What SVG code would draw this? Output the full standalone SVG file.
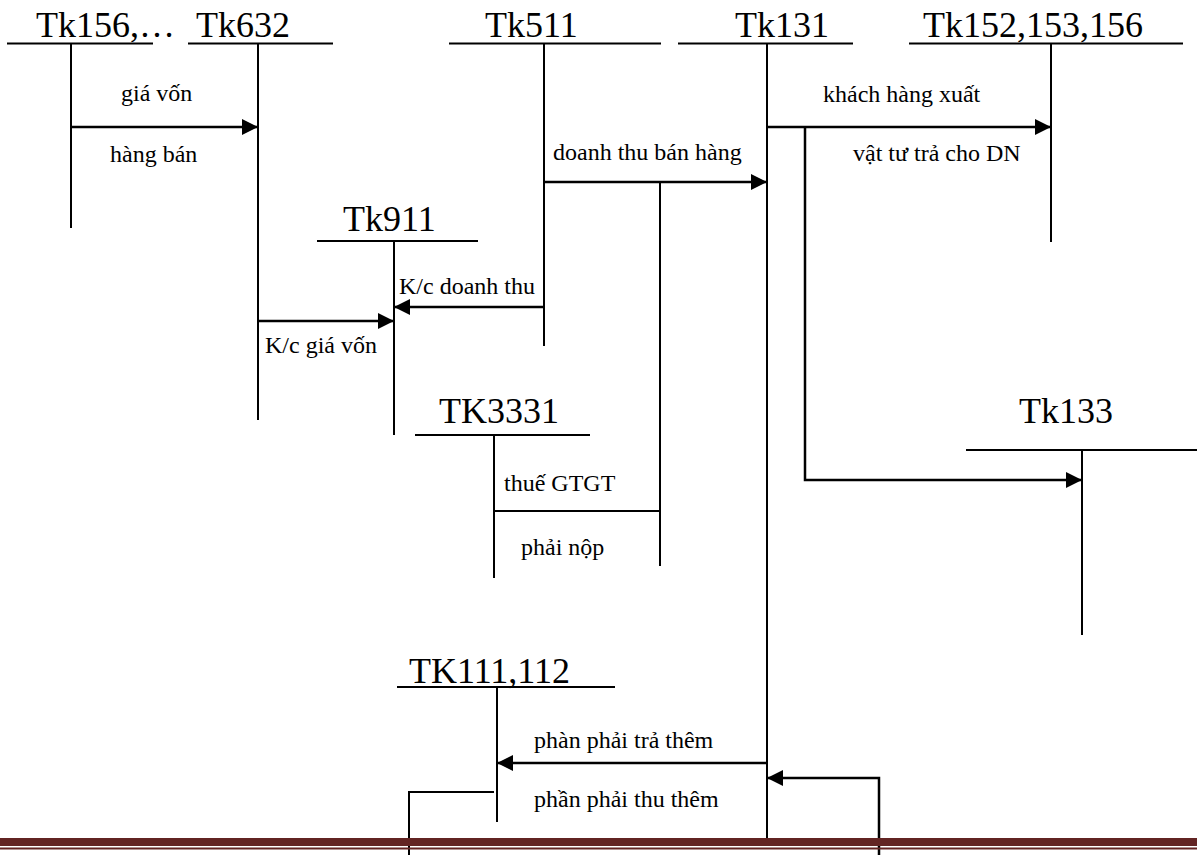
<svg xmlns="http://www.w3.org/2000/svg" width="1197" height="855" viewBox="0 0 1197 855">
<style>
.t{font-family:"Liberation Serif","Times New Roman",serif;font-size:36px;fill:#000}
.l{font-family:"Liberation Serif","Times New Roman",serif;font-size:24px;fill:#000}
.ln{stroke:#000;stroke-width:2;fill:none}
.ar{stroke:#000;stroke-width:2.5;fill:none}
</style>
<defs>
<marker id="ah" markerUnits="userSpaceOnUse" markerWidth="16" markerHeight="16" refX="16" refY="8" orient="auto">
<path d="M0,0 L16,8 L0,16 z" fill="#000"/>
</marker>
</defs>
<rect width="1197" height="855" fill="#fff"/>
<g id="tk156">
<text class="t" x="36" y="37">Tk156,…</text>
<line class="ln" x1="7" y1="43.5" x2="153" y2="43.5"/>
<line class="ln" x1="71" y1="43" x2="71" y2="228"/>
</g>
<g id="tk632">
<text class="t" x="196" y="37">Tk632</text>
<line class="ln" x1="188" y1="43.5" x2="333" y2="43.5"/>
<line class="ln" x1="258" y1="43" x2="258" y2="420"/>
</g>
<g id="tk511">
<text class="t" x="485" y="37">Tk511</text>
<line class="ln" x1="449" y1="43.5" x2="661" y2="43.5"/>
<line class="ln" x1="544" y1="43" x2="544" y2="346"/>
</g>
<g id="tk131">
<text class="t" x="735" y="37">Tk131</text>
<line class="ln" x1="678" y1="43.5" x2="853" y2="43.5"/>
<line class="ln" x1="767" y1="43" x2="767" y2="843"/>
</g>
<g id="tk152">
<text class="t" x="923" y="37">Tk152,153,156</text>
<line class="ln" x1="909" y1="43.5" x2="1183" y2="43.5"/>
<line class="ln" x1="1051" y1="43" x2="1051" y2="242"/>
</g>
<g id="tk911">
<text class="t" x="343" y="231">Tk911</text>
<line class="ln" x1="317" y1="241" x2="478" y2="241"/>
<line class="ln" x1="394" y1="241" x2="394" y2="435"/>
</g>
<g id="tk3331">
<text class="t" x="439" y="423">TK3331</text>
<line class="ln" x1="415" y1="435" x2="590" y2="435"/>
<line class="ln" x1="494" y1="435" x2="494" y2="578"/>
</g>
<g id="tk133">
<text class="t" x="1019" y="423">Tk133</text>
<line class="ln" x1="966" y1="450" x2="1197" y2="450"/>
<line class="ln" x1="1082" y1="450" x2="1082" y2="635"/>
</g>
<g id="tk111">
<text class="t" x="409" y="683">TK111,112</text>
<line class="ln" x1="397" y1="687" x2="615" y2="687"/>
<line class="ln" x1="497" y1="687" x2="497" y2="822"/>
</g>
<g id="connectors">
<line class="ar" x1="71" y1="127" x2="258" y2="127" marker-end="url(#ah)"/>
<line class="ar" x1="544" y1="182" x2="767" y2="182" marker-end="url(#ah)"/>
<line class="ln" x1="660" y1="182" x2="660" y2="566"/>
<line class="ln" x1="494" y1="511" x2="660" y2="511"/>
<line class="ar" x1="767" y1="127" x2="1051" y2="127" marker-end="url(#ah)"/>
<polyline class="ar" points="805,127 805,480 1082,480" marker-end="url(#ah)"/>
<line class="ar" x1="544" y1="307" x2="394" y2="307" marker-end="url(#ah)"/>
<line class="ar" x1="258" y1="321" x2="394" y2="321" marker-end="url(#ah)"/>
<line class="ar" x1="767" y1="763" x2="497" y2="763" marker-end="url(#ah)"/>
<polyline class="ar" points="879,855 879,778 767,778" marker-end="url(#ah)"/>
<polyline class="ln" points="494,792 409,792 409,855"/>
<text class="l" x="121" y="101">giá vốn</text>
<text class="l" x="110" y="162">hàng bán</text>
<text class="l" x="553" y="160">doanh thu bán hàng</text>
<text class="l" x="823" y="102">khách hàng xuất</text>
<text class="l" x="853" y="161">vật tư trả cho DN</text>
<text class="l" x="399" y="294">K/c doanh thu</text>
<text class="l" x="265" y="353">K/c giá vốn</text>
<text class="l" x="504" y="491">thuế GTGT</text>
<text class="l" x="521" y="555">phải nộp</text>
<text class="l" x="534" y="748">phàn phải trả thêm</text>
<text class="l" x="534" y="807">phần phải thu thêm</text>
</g>
<rect x="0" y="838" width="1197" height="8" fill="#622423"/>
<rect x="0" y="847.5" width="1197" height="2" fill="#622423"/>
</svg>
